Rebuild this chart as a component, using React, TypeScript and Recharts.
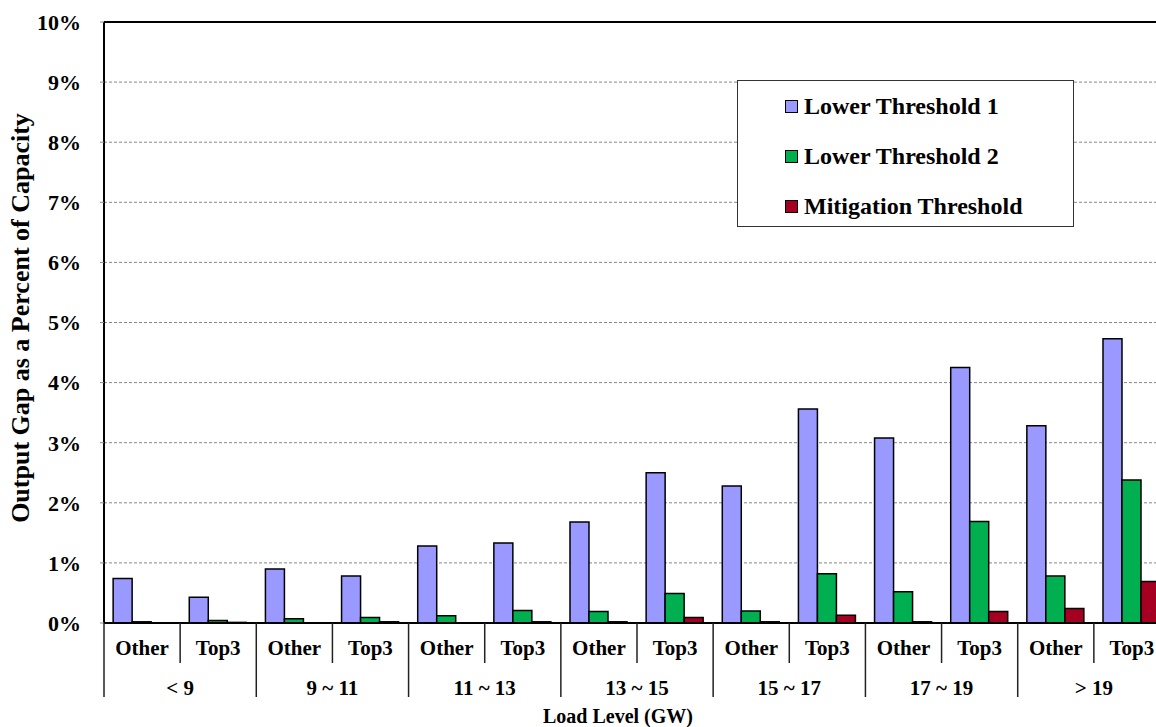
import React from 'react';
import {
  BarChart,
  Bar,
  XAxis,
  YAxis,
  CartesianGrid,
  Legend,
  ReferenceLine,
} from 'recharts';

const FONT = '"Liberation Serif", "Times New Roman", serif';

const GROUPS = ['< 9', '9 ~ 11', '11 ~ 13', '13 ~ 15', '15 ~ 17', '17 ~ 19', '> 19'];
const SUBS = ['Other', 'Top3'];

const LOWER_1 = [0.74, 0.43, 0.9, 0.78, 1.28, 1.33, 1.68, 2.5, 2.28, 3.56, 3.08, 4.25, 3.28, 4.73];
const LOWER_2 = [0.02, 0.04, 0.07, 0.09, 0.12, 0.21, 0.19, 0.49, 0.2, 0.82, 0.52, 1.69, 0.78, 2.38];
const MITIGATION = [0, 0.01, 0, 0.02, 0, 0.02, 0.02, 0.09, 0.02, 0.13, 0.02, 0.19, 0.24, 0.69];

const Y_TICKS = [0, 1, 2, 3, 4, 5, 6, 7, 8, 9, 10];

const SERIES = [
  { key: 'lower1', name: 'Lower Threshold 1', color: '#9999FF' },
  { key: 'lower2', name: 'Lower Threshold 2', color: '#00B050' },
  { key: 'mitigation', name: 'Mitigation Threshold', color: '#A50021' },
];

const data = GROUPS.flatMap((g, gi) =>
  SUBS.map((s, si) => {
    const i = gi * 2 + si;
    return {
      name: s,
      group: g,
      lower1: LOWER_1[i],
      lower2: LOWER_2[i],
      mitigation: MITIGATION[i],
    };
  })
);

const CHART_W = 1180;
const PLOT_LEFT = 104;
const PLOT_RIGHT = 1170;
const BAND = (PLOT_RIGHT - PLOT_LEFT) / data.length;

const XTick = (props: any) => {
  const { x, y, payload } = props;
  const idx = payload.index;
  const row = data[idx];
  const left = x - BAND / 2;
  const first = idx % 2 === 0;
  return (
    <g>
      <line
        x1={left}
        x2={left}
        y1={y}
        y2={first ? y + 74 : y + 40}
        stroke='#222'
        strokeWidth={1.5}
      />
      <text
        x={x}
        y={y + 32}
        textAnchor='middle'
        fontFamily={FONT}
        fontWeight='bold'
        fontSize={21}
        fill='#000'
      >
        {row.name}
      </text>
      {first && (
        <text
          x={x + BAND / 2}
          y={y + 72}
          textAnchor='middle'
          fontFamily={FONT}
          fontWeight='bold'
          fontSize={21}
          fill='#000'
        >
          {row.group}
        </text>
      )}
    </g>
  );
};

const LegendBox = () => (
  <div
    style={{
      width: '100%',
      height: '100%',
      boxSizing: 'border-box',
      border: '1px solid #333',
      background: '#fff',
      position: 'relative',
      fontFamily: FONT,
      fontWeight: 'bold',
      fontSize: 24,
      color: '#000',
    }}
  >
    {SERIES.map((s, i) => (
      <div
        key={s.key}
        style={{
          position: 'absolute',
          left: 47,
          top: 25 + i * 50 - 14,
          height: 28,
          display: 'flex',
          alignItems: 'center',
          whiteSpace: 'nowrap',
        }}
      >
        <span
          style={{
            display: 'inline-block',
            width: 11,
            height: 11,
            background: s.color,
            border: '1.5px solid #000',
            marginRight: 6,
          }}
        />
        <span>{s.name}</span>
      </div>
    ))}
  </div>
);

export default function App() {
  return (
    <div
      style={{
        position: 'absolute',
        left: 0,
        top: 0,
        width: 1156,
        height: 727,
        overflow: 'hidden',
        background: '#fff',
      }}
    >
      <BarChart
        width={CHART_W}
        height={727}
        data={data}
        margin={{ top: 22, right: CHART_W - PLOT_RIGHT, left: 0, bottom: 0 }}
        barCategoryGap='12%'
        barGap={0}
      >
        <CartesianGrid
          vertical={false}
          stroke='#888'
          strokeDasharray='3 2'
        />
        <ReferenceLine y={10} stroke='#000' strokeWidth={2} />
        <XAxis
          dataKey='name'
          interval={0}
          height={104}
          axisLine={{ stroke: '#000', strokeWidth: 2 }}
          tickLine={false}
          tickSize={0}
          tickMargin={0}
          tick={<XTick />}
          label={{
            content: () => (
              <text
                x={618}
                y={723}
                textAnchor='middle'
                fontFamily={FONT}
                fontWeight='bold'
                fontSize={20}
                fill='#000'
              >
                Load Level (GW)
              </text>
            ),
          }}
        />
        <YAxis
          width={PLOT_LEFT}
          domain={[0, 10]}
          ticks={Y_TICKS}
          interval={0}
          tickFormatter={(v: number) => `${v}%`}
          axisLine={{ stroke: '#000', strokeWidth: 2 }}
          tickLine={{ stroke: '#888' }}
          tickSize={4}
          tickMargin={19}
          tick={{ fontFamily: FONT, fontWeight: 'bold', fontSize: 22, fill: '#000' }}
          label={{
            content: () => (
              <text
                x={20}
                y={318}
                transform='rotate(-90 20 318)'
                textAnchor='middle'
                dominantBaseline='central'
                fontFamily={FONT}
                fontWeight='bold'
                fontSize={26}
                fill='#000'
              >
                Output Gap as a Percent of Capacity
              </text>
            ),
          }}
        />
        <Legend
          layout='vertical'
          align='center'
          verticalAlign='middle'
          wrapperStyle={{ left: 737, top: 80, width: 337, height: 147 }}
          content={() => <LegendBox />}
        />
        {SERIES.map((s) => (
          <Bar
            key={s.key}
            dataKey={s.key}
            name={s.name}
            fill={s.color}
            stroke='#000'
            strokeWidth={1.5}
            isAnimationActive={false}
          />
        ))}
      </BarChart>
    </div>
  );
}
